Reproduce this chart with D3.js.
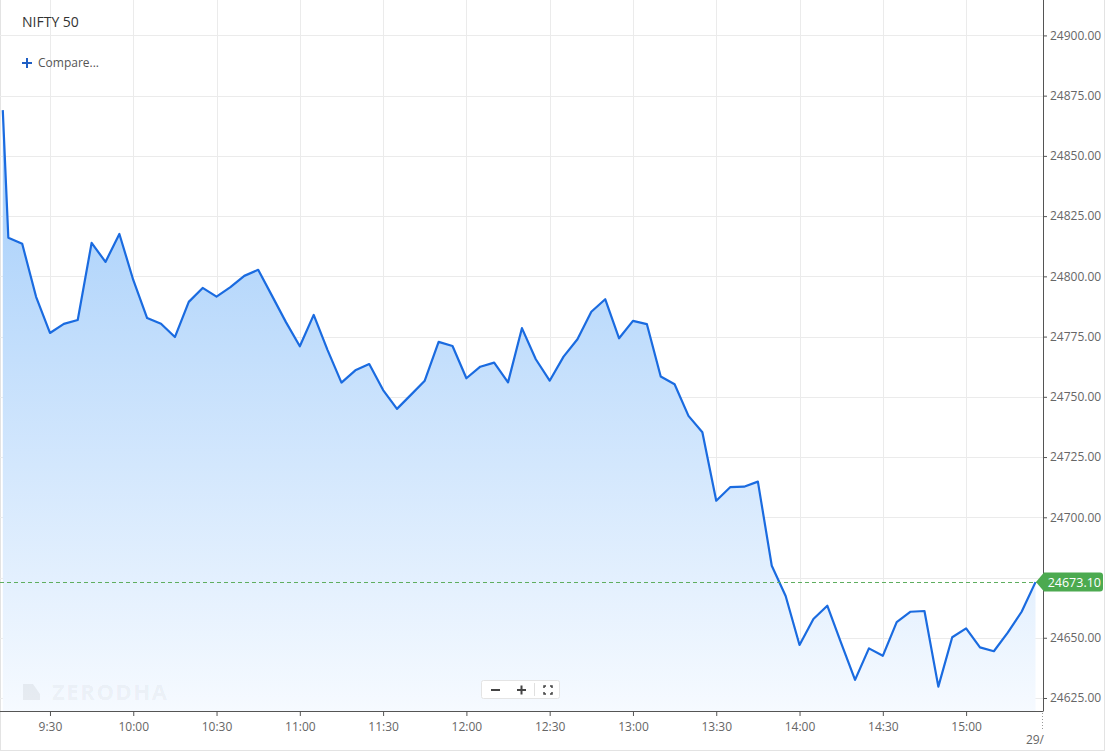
<!DOCTYPE html>
<html>
<head>
<meta charset="utf-8">
<script src="https://cdn.jsdelivr.net/npm/d3@7"></script>
<style>
  html, body { margin: 0; padding: 0; background: #fff; }
  svg { display: block; font-family: "Open Sans", "Noto Sans", sans-serif; }
</style>
</head>
<body>
<div id="root"></div>
<script>
// NIFTY 50 intraday, 5 min closes
const times = [
  '9:13', '9:15', '9:20', '9:25', '9:30', '9:35', '9:40', '9:45', '9:50', '9:55',
  '10:00', '10:05', '10:10', '10:15', '10:20', '10:25', '10:30', '10:35', '10:40', '10:45',
  '10:50', '10:55', '11:00', '11:05', '11:10', '11:15', '11:20', '11:25', '11:30', '11:35',
  '11:40', '11:45', '11:50', '11:55', '12:00', '12:05', '12:10', '12:15', '12:20', '12:25',
  '12:30', '12:35', '12:40', '12:45', '12:50', '12:55', '13:00', '13:05', '13:10', '13:15',
  '13:20', '13:25', '13:30', '13:35', '13:40', '13:45', '13:50', '13:55', '14:00', '14:05',
  '14:10', '14:15', '14:20', '14:25', '14:30', '14:35', '14:40', '14:45', '14:50', '14:55',
  '15:00', '15:05', '15:10', '15:15', '15:20', '15:25'
];
const prices = [
  24869, 24816, 24813.5, 24791.5, 24776.5, 24780.3, 24781.9, 24813.9, 24806, 24817.6,
  24798.5, 24782.7, 24780.3, 24774.8, 24789.4, 24795.2, 24791.6, 24795.5, 24800.2, 24802.7,
  24791.9, 24781, 24771, 24784, 24769.4, 24755.9, 24761, 24763.6, 24752.8, 24745,
  24750.8, 24756.7, 24772.8, 24771.1, 24757.7, 24762.5, 24764.2, 24756, 24778.5, 24765.6,
  24756.7, 24766.7, 24773.9, 24785.3, 24790.5, 24774.3, 24781.5, 24780.2, 24758.4, 24755.2,
  24742.1, 24735.3, 24706.9, 24712.5, 24712.7, 24714.8, 24679.9, 24667.3, 24647, 24657.8,
  24663.3, 24647.8, 24632.5, 24645.6, 24642.5, 24656.5, 24660.8, 24661.1, 24629.7, 24650.2,
  24653.9, 24646, 24644.4, 24652.1, 24660.8, 24673.1
];
const xTicks = ['9:30', '10:00', '10:30', '11:00', '11:30', '12:00', '12:30', '13:00', '13:30', '14:00', '14:30', '15:00'];
const yTicks = [24625, 24650, 24675, 24700, 24725, 24750, 24775, 24800, 24825, 24850, 24875, 24900];
const lastPrice = 24673.10;
const title = 'NIFTY 50';
const nextDayLabel = '29/';

const W = 1108, H = 752;
const plotR = 1043, plotB = 711;

const toMin = s => { const [h, m] = s.split(':').map(Number); return h * 60 + m; };
const data = times.map((t, i) => ({ t: toMin(t), v: prices[i] }));

const svg = d3.select('#root').append('svg')
  .attr('width', W).attr('height', H);

const x = d3.scaleLinear()
  .domain([toMin('9:12'), toMin('15:27') + 0.7])
  .range([0, plotR]);

const y = d3.scaleLinear()
  .domain([24619.6, 24914.7])
  .range([plotB, 0]);

// outer frame
svg.append('rect')
  .attr('x', 0.5).attr('y', -1).attr('width', 1104).attr('height', H - 0.5)
  .attr('fill', 'none').attr('stroke', '#e3e3e3');

// grid
const grid = svg.append('g').attr('stroke', '#ebebeb').attr('stroke-width', 1);
grid.selectAll('.gy').data(yTicks).join('line')
  .attr('x1', 0).attr('x2', plotR)
  .attr('y1', d => Math.round(y(d)) + 0.5).attr('y2', d => Math.round(y(d)) + 0.5);
grid.selectAll('.gx').data(xTicks).join('line')
  .attr('x1', d => Math.round(x(toMin(d))) + 0.5).attr('x2', d => Math.round(x(toMin(d))) + 0.5)
  .attr('y1', 0).attr('y2', plotB);

// gradient fill
const defs = svg.append('defs');
const grad = defs.append('linearGradient')
  .attr('id', 'fillGrad').attr('gradientUnits', 'userSpaceOnUse')
  .attr('x1', 0).attr('x2', 0).attr('y1', 100).attr('y2', plotB);
grad.append('stop').attr('offset', 0).attr('stop-color', '#9fcbfa');
grad.append('stop').attr('offset', 1).attr('stop-color', '#f6faff');

defs.append('clipPath').attr('id', 'plotClip')
  .append('rect').attr('x', 1).attr('y', 0).attr('width', plotR - 1).attr('height', plotB);

const plot = svg.append('g').attr('clip-path', 'url(#plotClip)');

plot.append('path')
  .datum(data)
  .attr('fill', 'url(#fillGrad)')
  .attr('d', d3.area().x(d => x(d.t)).y0(plotB).y1(d => y(d.v)));

// watermark
const wm = svg.append('g').attr('fill', '#000').attr('fill-opacity', 0.055);
wm.append('path').attr('d', 'M23,684 L33,684 L40,694 L40,700 L23,700 Z');
wm.append('text')
  .attr('x', 52).attr('y', 700)
  .attr('font-size', 22).attr('font-weight', 700)
  .attr('letter-spacing', 1.6)
  .text('ZERODHA');

// last price dashed line
svg.append('line')
  .attr('x1', 0).attr('x2', plotR)
  .attr('y1', Math.round(y(lastPrice)) + 0.5).attr('y2', Math.round(y(lastPrice)) + 0.5)
  .attr('stroke', '#5fae5f').attr('stroke-width', 1).attr('stroke-dasharray', '4,3');

plot.append('path')
  .datum(data)
  .attr('fill', 'none')
  .attr('stroke', '#1a6be0')
  .attr('stroke-width', 2.2)
  .attr('stroke-linejoin', 'round')
  .attr('d', d3.line().x(d => x(d.t)).y(d => y(d.v)));

// axes (labels close to the price tag are hidden, as in the original)
const tagClear = d => Math.abs(y(d) - y(lastPrice)) > 14;
const gy = svg.append('g')
  .attr('transform', `translate(${plotR},0)`)
  .call(d3.axisRight(y).tickValues(yTicks.filter(tagClear)).tickSize(4).tickPadding(3).tickFormat(d3.format('.2f')));
gy.select('.domain').attr('d', `M0.5,0V${plotB}`).attr('stroke', '#555');
gy.selectAll('.tick line').attr('stroke', '#555');
gy.selectAll('.tick text').attr('fill', '#666').attr('font-size', 12)
  .attr('font-family', '"Open Sans", sans-serif');

const gx = svg.append('g')
  .attr('transform', `translate(0,${plotB})`)
  .call(d3.axisBottom(x).tickValues(xTicks.map(toMin)).tickSize(5).tickPadding(6)
    .tickFormat((d, i) => xTicks[i]));
gx.select('.domain').attr('d', `M0,0.5H${plotR + 0.5}`).attr('stroke', '#555');
gx.selectAll('.tick line').attr('stroke', '#555');
gx.selectAll('.tick text').attr('fill', '#666').attr('font-size', 12)
  .attr('font-family', '"Open Sans", sans-serif');

// next day marker
svg.append('line')
  .attr('x1', plotR - 0.5).attr('x2', plotR - 0.5).attr('y1', plotB + 2).attr('y2', plotB + 20)
  .attr('stroke', '#999').attr('stroke-dasharray', '1,2');
svg.append('text')
  .attr('x', plotR + 1).attr('y', plotB + 33)
  .attr('text-anchor', 'end').attr('font-size', 12).attr('fill', '#666')
  .text(nextDayLabel);

// price tag
const ty = y(lastPrice);
svg.append('path')
  .attr('d', `M${plotR - 7},${ty} L${plotR + 1},${ty - 9.5} L${plotR + 57},${ty - 9.5} Q${plotR + 60},${ty - 9.5} ${plotR + 60},${ty - 6.5} L${plotR + 60},${ty + 6.5} Q${plotR + 60},${ty + 9.5} ${plotR + 57},${ty + 9.5} L${plotR + 1},${ty + 9.5} Z`)
  .attr('fill', '#4caa50');
svg.append('text')
  .attr('x', plotR + 58).attr('y', ty + 4.5)
  .attr('text-anchor', 'end').attr('font-size', 12.5).attr('fill', '#fff')
  .text(lastPrice.toFixed(2));

// title + compare
svg.append('text')
  .attr('x', 22).attr('y', 27)
  .attr('font-size', 14).attr('fill', '#333')
  .text(title);
svg.append('path')
  .attr('d', 'M22,63H32M27,58V68')
  .attr('stroke', '#1f5fc4').attr('stroke-width', 2);
svg.append('text')
  .attr('x', 38).attr('y', 66.5)
  .attr('font-size', 12).attr('fill', '#555')
  .text('Compare...');

// zoom controls
const zc = svg.append('g');
zc.append('rect')
  .attr('x', 481.5).attr('y', 680.5).attr('width', 78).attr('height', 18).attr('rx', 2)
  .attr('fill', '#fff').attr('stroke', '#e4e4e4');
zc.append('path').attr('d', 'M491,690H500').attr('stroke', '#444').attr('stroke-width', 2);
zc.append('path').attr('d', 'M517,690H526M521.5,685.5V694.5').attr('stroke', '#444').attr('stroke-width', 2);
zc.append('line').attr('x1', 534.5).attr('x2', 534.5).attr('y1', 683).attr('y2', 696).attr('stroke', '#e0e0e0');
zc.append('path')
  .attr('d', 'M544,688V686H546M550,686H552V688M552,692V694H550M546,694H544V692')
  .attr('fill', 'none').attr('stroke', '#444').attr('stroke-width', 1.5);
</script>
</body>
</html>
